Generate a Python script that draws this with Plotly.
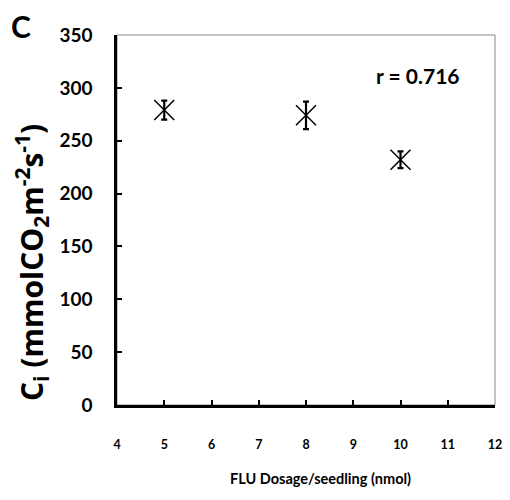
import plotly.graph_objects as go

dosage = [5, 8, 10]
ci_values = [279, 274, 232]
ci_errors = [9, 13, 8]
x_ticks = [4, 5, 6, 7, 8, 9, 10, 11, 12]
y_ticks = [0, 50, 100, 150, 200, 250, 300, 350]

# page body has an 8px margin; the figure is sized to fit inside it
OFF = 8
W, H = 494, 484
L, T = 117 - OFF, 35 - OFF
PW, PH = 378, 370
R = W - L - PW
B = H - T - PH

def px_x(px):
    return (px - OFF - L) / PW

def px_y(py):
    return 1 - (py - OFF - T) / PH

fig = go.Figure()
fig.add_trace(go.Scatter(
    x=dosage, y=ci_values, mode="markers",
    marker=dict(symbol="x-thin-open", size=20, color="black",
                line=dict(width=1.5, color="black")),
    error_y=dict(type="data", array=ci_errors, visible=True,
                 color="black", thickness=2.2, width=3),
    showlegend=False,
))

lato = "Lato, 'Open Sans', sans-serif"
osans = "'Open Sans', Lato, sans-serif"
fig.update_layout(
    width=W, height=H,
    margin=dict(l=L, r=R, t=T, b=B, autoexpand=False),
    paper_bgcolor="white", plot_bgcolor="white",
    font=dict(family=lato, color="black"),
    xaxis=dict(range=[4, 12], tickvals=x_ticks,
               ticktext=[f"<b>{v}</b>" for v in x_ticks],
               ticks="inside", ticklen=5, ticklabelstandoff=26,
               ticklabeloverflow="allow", automargin=False,
               tickwidth=2, tickcolor="black", showline=True, linewidth=2.5,
               linecolor="black", showgrid=False, zeroline=False,
               tickfont=dict(size=12.5, family=lato)),
    yaxis=dict(range=[0, 350], tickvals=y_ticks,
               ticktext=[f"<b>{v}</b>" for v in y_ticks],
               ticks="inside", ticklen=5, ticklabelstandoff=18,
               automargin=False,
               tickwidth=2, tickcolor="black", showline=True, linewidth=2.5,
               linecolor="black", showgrid=False, zeroline=False,
               tickfont=dict(size=19, family=lato)),
    shapes=[dict(type="rect", xref="paper", yref="paper", x0=0, x1=1, y0=0, y1=1,
                 line=dict(color="#888888", width=1), layer="below")],
    annotations=[
        dict(text="<b>r = 0.716</b>", x=px_x(418), y=px_y(75), xref="paper", yref="paper",
             showarrow=False, font=dict(size=21), xanchor="center", yanchor="middle"),
        dict(text="<b>C</b>", x=px_x(21), y=px_y(26), xref="paper", yref="paper",
             showarrow=False, font=dict(size=30), xanchor="center", yanchor="middle"),
        dict(text="<b>FLU Dosage/seedling (nmol)</b>", x=px_x(320), y=px_y(478),
             xref="paper", yref="paper", showarrow=False, font=dict(size=14.5),
             xanchor="center", yanchor="middle"),
        dict(text="<b>C<sub>i</sub> (mmolCO<sub>2</sub>m<sup>-2</sup>s<sup>-1</sup>)</b>",
             x=px_x(31), y=px_y(263), xref="paper", yref="paper", textangle=-90,
             showarrow=False, font=dict(size=30, family=osans),
             xanchor="center", yanchor="middle"),
    ],
)

fig.write_html("out.html")
